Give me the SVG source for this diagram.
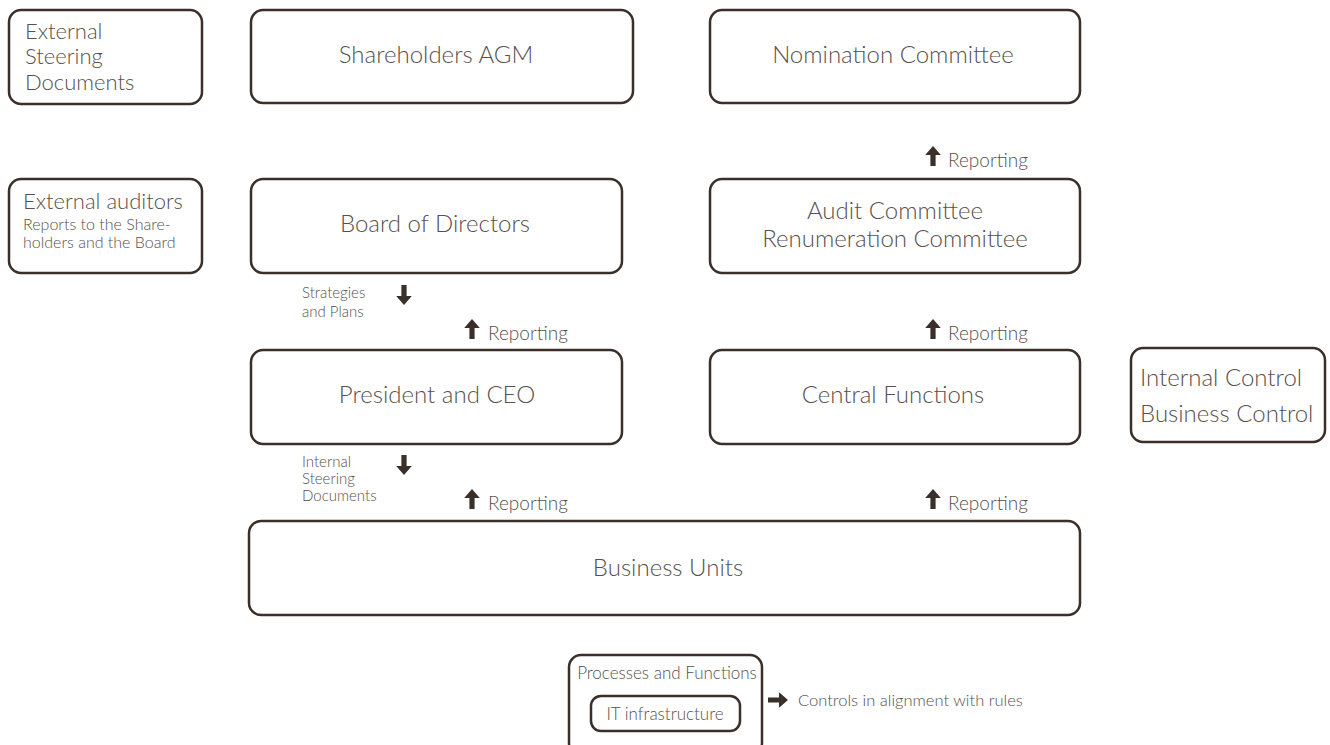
<svg xmlns="http://www.w3.org/2000/svg" xmlns:xlink="http://www.w3.org/1999/xlink" width="1330" height="745" viewBox="0 0 1330 745">
<style>
.box{fill:#fff;stroke:#3a2f29;stroke-width:2.5}
text{font-family:Lato,"Open Sans","Liberation Sans",sans-serif;font-weight:300;fill:#57504c}
.t23{font-size:24px}
.t21{font-size:22px}
.t18{font-size:19px}
.t16{font-size:17px}
.t15{font-size:16.5px}
.sub{font-size:16px}
.t14{font-size:15px}
.mid{text-anchor:middle}
.arr{fill:#3a2f29}
</style>
<defs>
<path id="up" d="M-2.6,0 L2.6,0 L2.6,-11 L7.8,-11 L0,-20 L-7.8,-11 L-2.6,-11 Z"/>
</defs>
<g id="ext-steering"><rect class="box" x="9" y="10" width="193" height="94" rx="12"/>
<text class="t21" x="25" y="39">External</text><text class="t21" x="25" y="64">Steering</text><text class="t21" x="25" y="90">Documents</text></g>
<g id="shareholders"><rect class="box" x="251" y="10" width="382" height="93" rx="12"/>
<text class="t23 mid" x="436" y="63">Shareholders AGM</text></g>
<g id="nomination"><rect class="box" x="710" y="10" width="370" height="93" rx="12"/>
<text class="t23 mid" x="893" y="63">Nomination Committee</text></g>
<g id="ext-auditors"><rect class="box" x="9" y="179" width="193" height="94" rx="12"/>
<text class="t21" x="23" y="209">External auditors</text><text class="sub" x="23" y="230">Reports to the Share-</text><text class="sub" x="23" y="247.5">holders and the Board</text></g>
<g id="board"><rect class="box" x="251" y="179" width="371" height="94" rx="12"/>
<text class="t23 mid" x="435" y="232">Board of Directors</text></g>
<g id="audit"><rect class="box" x="710" y="179" width="370" height="94" rx="12"/>
<text class="t23 mid" x="895" y="219">Audit Committee</text><text class="t23 mid" x="895" y="247">Renumeration Committee</text></g>
<g id="ceo"><rect class="box" x="251" y="350" width="371" height="94" rx="12"/>
<text class="t23 mid" x="437" y="403">President and CEO</text></g>
<g id="central"><rect class="box" x="710" y="350" width="370" height="94" rx="12"/>
<text class="t23 mid" x="893" y="403">Central Functions</text></g>
<g id="internal-control"><rect class="box" x="1131" y="348" width="194" height="94" rx="12"/>
<text class="t23" x="1140" y="386">Internal Control</text><text class="t23" x="1140" y="422">Business Control</text></g>
<g id="business-units"><rect class="box" x="249" y="521" width="831" height="94" rx="12"/>
<text class="t23 mid" x="668" y="576">Business Units</text></g>
<g id="processes"><rect class="box" x="569" y="655" width="193" height="100" rx="12"/>
<text class="t16 mid" x="667" y="679">Processes and Functions</text>
<g id="it"><rect class="box" x="591" y="696" width="149" height="35" rx="10"/>
<text class="t16 mid" x="665" y="720">IT infrastructure</text></g></g>
<g id="connectors">
<use class="arr" xlink:href="#up" x="933" y="166"/>
<text class="t18" x="948" y="167">Reporting</text>
<text class="t14" x="302" y="298">Strategies</text><text class="t14" x="302" y="317">and Plans</text>
<use class="arr" xlink:href="#up" transform="translate(404,285) rotate(180)"/>
<use class="arr" xlink:href="#up" x="472" y="339"/>
<text class="t18" x="488" y="340">Reporting</text>
<use class="arr" xlink:href="#up" x="933" y="339"/>
<text class="t18" x="948" y="340">Reporting</text>
<text class="t14" x="302" y="467">Internal</text><text class="t14" x="302" y="484">Steering</text><text class="t14" x="302" y="501">Documents</text>
<use class="arr" xlink:href="#up" transform="translate(404,455) rotate(180)"/>
<use class="arr" xlink:href="#up" x="472" y="509"/>
<text class="t18" x="488" y="510">Reporting</text>
<use class="arr" xlink:href="#up" x="933" y="509"/>
<text class="t18" x="948" y="510">Reporting</text>
<use class="arr" xlink:href="#up" transform="translate(768,700) rotate(90)"/>
<text class="t15" x="798" y="706">Controls in alignment with rules</text>
</g>
</svg>
